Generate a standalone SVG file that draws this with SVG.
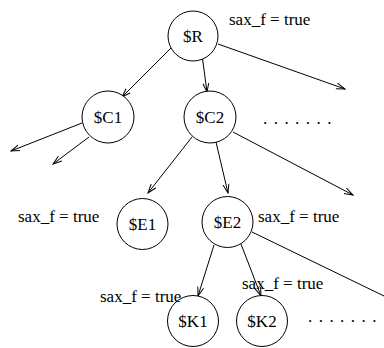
<svg xmlns="http://www.w3.org/2000/svg" width="384" height="348" viewBox="0 0 384 348">
<style>
.n{fill:#fff;stroke:#000;stroke-width:1}
.t{font-family:"Liberation Serif","Times New Roman","DejaVu Serif",serif;font-size:17px;fill:#000}
.c{text-anchor:middle}
.e{stroke:#000;stroke-width:1;fill:none;marker-end:url(#a)}
.l{stroke:#000;stroke-width:1;fill:none}
</style>
<defs>
<marker id="a" markerWidth="10" markerHeight="8" refX="9" refY="4" orient="auto" markerUnits="userSpaceOnUse">
<path d="M0,1 L9,4 L0,7" fill="none" stroke="#000" stroke-width="1"/>
</marker>
</defs>
<g id="connectors">
<line class="e" x1="171" y1="48" x2="122" y2="97"/>
<line class="e" x1="202" y1="55" x2="207" y2="92"/>
<line class="e" x1="218" y1="44" x2="345" y2="89"/>
<line class="e" x1="82" y1="123" x2="11" y2="151"/>
<line class="e" x1="89" y1="137" x2="53" y2="164"/>
<line class="e" x1="192" y1="137" x2="148" y2="193"/>
<line class="e" x1="216" y1="142" x2="228" y2="193"/>
<line class="e" x1="233" y1="132" x2="353" y2="195"/>
<line class="l" x1="252" y1="232" x2="384" y2="296"/>
<line class="e" x1="214" y1="245" x2="198" y2="296"/>
<line class="e" x1="241" y1="244" x2="261" y2="296"/>
</g>
<g id="R"><circle class="n" cx="193" cy="36" r="25"/><text class="t c" x="193" y="42">$R</text></g>
<g id="C1"><circle class="n" cx="108" cy="117" r="26"/><text class="t c" x="108" y="123">$C1</text></g>
<g id="C2"><circle class="n" cx="210" cy="117" r="26"/><text class="t c" x="210" y="123">$C2</text></g>
<g id="E1"><circle class="n" cx="142.5" cy="224" r="25.5"/><text class="t c" x="142.5" y="230">$E1</text></g>
<g id="E2"><circle class="n" cx="227.5" cy="222" r="25.5"/><text class="t c" x="227.5" y="228">$E2</text></g>
<g id="K1"><circle class="n" cx="193" cy="321" r="25.5"/><text class="t c" x="193" y="327">$K1</text></g>
<g id="K2"><circle class="n" cx="262" cy="321" r="25.5"/><text class="t c" x="262" y="327">$K2</text></g>
<g id="labels">
<text class="t" x="229" y="25">sax_f = true</text>
<text class="t" x="18" y="222">sax_f = true</text>
<text class="t" x="258" y="222">sax_f = true</text>
<text class="t" x="100" y="302">sax_f = true</text>
<text class="t" x="242" y="289">sax_f = true</text>
<text class="t" x="263" y="124" letter-spacing="1.1">. . . . . . .</text>
<text class="t" x="308" y="322" letter-spacing="1.1">. . . . . . .</text>
</g>
</svg>
